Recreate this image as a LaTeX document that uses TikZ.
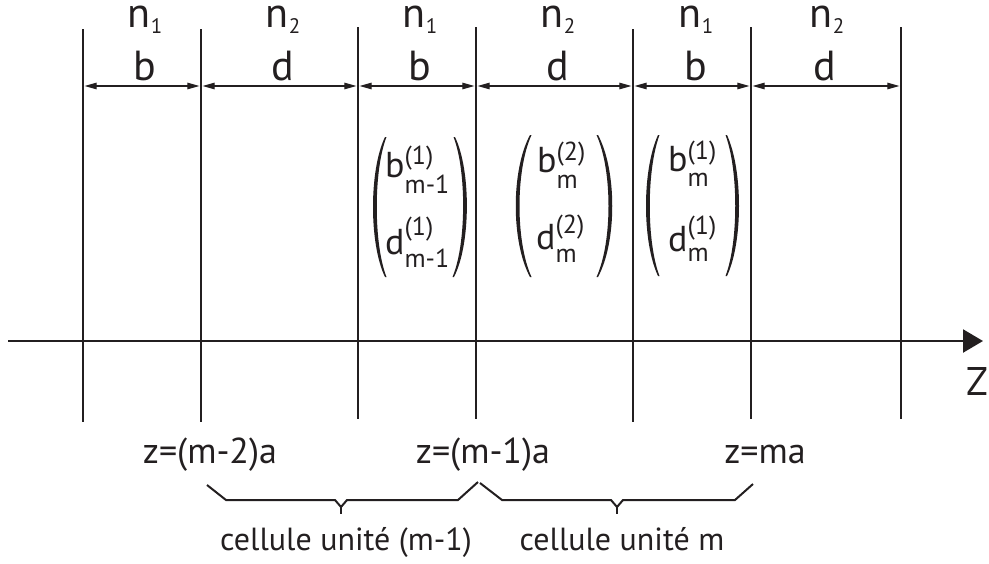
\documentclass[tikz,border=0pt]{standalone}
\usepackage{fontspec}
\setmainfont{PT Sans}
\usetikzlibrary{arrows.meta}
\definecolor{ink}{HTML}{231F20}
\newcommand\scrfont{\fontsize{26}{30}\selectfont}
\newcommand\ent[5]{#1\rlap{\raisebox{#4}{\scrfont #2}}\raisebox{-#5}{\scrfont #3}}
\newcommand\nlab[1]{n\raisebox{-6pt}{\fontsize{21}{25}\selectfont #1}}
\begin{document}
\begin{tikzpicture}[x=1pt,y=-1pt,
  wall/.style={line width=2.6pt, draw=ink},
  dimline/.style={line width=1.1pt, draw=ink,
    {Triangle[length=12pt,width=6.5pt]}-{Triangle[length=12pt,width=6.5pt]},
    shorten >=1.6pt, shorten <=1.6pt},
  toplab/.style={font=\fontsize{42}{50}\selectfont, text=ink, inner sep=0pt, anchor=base},
  entry/.style={font=\fontsize{36}{42}\selectfont, text=ink, inner sep=0pt, anchor=base west},
  poslab/.style={font=\fontsize{36}{42}\selectfont, text=ink, inner sep=0pt, anchor=base},
  celllab/.style={font=\fontsize{32}{38}\selectfont, text=ink, inner sep=0pt, anchor=base},
  bracepath/.style={line width=2pt, draw=ink, line join=miter},
  parenfill/.style={fill=ink, draw=none}
]
\useasboundingbox (0,0) rectangle (989,563);

% interface lines
\foreach \i/\x/\t/\b in {1/83/29/422, 2/201/29/422, 3/358/27/419, 4/476/27/419,
                         5/633/29/422, 6/751/27/419, 7/901/27/419}{
  \coordinate (t\i) at (\x,\t);
  \coordinate (u\i) at (\x,\b);
  \coordinate (d\i) at (\x,86);
  \draw[wall] (t\i) -- (u\i);
}

% dimension arrows
\foreach \i/\j in {1/2,2/3,3/4,4/5,5/6,6/7}{
  \draw[dimline] (d\i) -- (d\j);
}

% axis
\coordinate (axs) at (8,341);
\coordinate (axe) at (983,341);
\draw[line width=2.3pt, draw=ink, -{Triangle[length=20pt,width=23pt]}] (axs) -- (axe);
\node[font=\fontsize{40}{46}\selectfont, text=ink, inner sep=0pt, anchor=base] (zlab) at (977,395) {Z};

% top labels
\node[toplab] (na) at (145,27) {\nlab{1}};
\node[toplab] (nb) at (283,27) {\nlab{2}};
\node[toplab] (nc) at (420,27) {\nlab{1}};
\node[toplab] (nd) at (558,27) {\nlab{2}};
\node[toplab] (ne) at (696,27) {\nlab{1}};
\node[toplab] (nf) at (827,27) {\nlab{2}};
\node[toplab] (la) at (145,80) {b};
\node[toplab] (lb) at (283,80) {d};
\node[toplab] (lc) at (420,80) {b};
\node[toplab] (ld) at (558,80) {d};
\node[toplab] (le) at (696,80) {b};
\node[toplab] (lf) at (825,80) {d};

% matrix 1
\fill[parenfill] (385,137) .. controls (369,170) and (369,244) .. (385,277)
  -- (386.5,277) .. controls (373.5,244) and (373.5,170) .. (386.5,137) -- cycle;
\fill[parenfill] (455,137) .. controls (471,170) and (471,244) .. (454,277)
  -- (452.5,277) .. controls (466.5,244) and (466.5,170) .. (453.5,137) -- cycle;
\node[entry] (m1b) at (385,177) {\ent{b}{(1)}{m-1}{13pt}{16pt}};
\node[entry] (m1d) at (385,254) {\ent{d}{(1)}{m-1}{19pt}{13pt}};

% matrix 2
\fill[parenfill] (530,135) .. controls (511,170) and (511,242) .. (530,277)
  -- (531.5,277) .. controls (515.5,242) and (515.5,170) .. (531.5,135) -- cycle;
\fill[parenfill] (598,135) .. controls (617,170) and (617,242) .. (598,277)
  -- (596.5,277) .. controls (612.5,242) and (612.5,170) .. (596.5,135) -- cycle;
\node[entry] (m2b) at (537,172) {\ent{b}{(2)}{m}{12pt}{16pt}};
\node[entry] (m2d) at (536,249) {\ent{d}{(2)}{m}{16pt}{13pt}};

% matrix 3
\fill[parenfill] (658,135) .. controls (642,170) and (642,242) .. (658,276)
  -- (659.5,276) .. controls (646.5,242) and (646.5,170) .. (659.5,135) -- cycle;
\fill[parenfill] (727,135) .. controls (743,170) and (743,242) .. (727,276)
  -- (725.5,276) .. controls (738.5,242) and (738.5,170) .. (725.5,135) -- cycle;
\node[entry] (m3b) at (668,171) {\ent{b}{(1)}{m}{12pt}{15pt}};
\node[entry] (m3d) at (668,251) {\ent{d}{(1)}{m}{17pt}{10pt}};

% positions
\node[poslab] (p1) at (210,463) {z=(m-2)a};
\node[poslab] (p2) at (483,463) {z=(m-1)a};
\node[poslab] (p3) at (765,463) {z=ma};

% braces
\draw[bracepath] (207,485) -- (226,500) -- (335,500) -- (341,507) -- (347,500) -- (458,500) -- (478,482);
\draw[bracepath] (341,507) -- (341,514);
\draw[bracepath] (480,483) -- (502,500) -- (611,500) -- (617,507) -- (623,500) -- (735,500) -- (753,484);
\draw[bracepath] (617,507) -- (617,514);

% cell labels
\node[celllab] (c1) at (346,550) {cellule unité (m-1)};
\node[celllab] (c2) at (622,550) {cellule unité m};
\end{tikzpicture}
\end{document}
